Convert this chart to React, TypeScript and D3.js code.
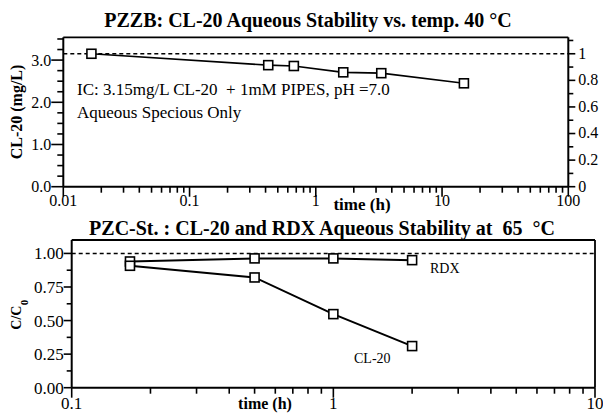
import React from 'react';
import * as d3 from 'd3';

// ---- Data ----
const topTimes = [0.0167, 0.42, 0.67, 1.65, 3.3, 14.9];
const topConc = [3.15, 2.88, 2.86, 2.71, 2.69, 2.45];
const initialConc = 3.15;

const botTimes = [0.167, 0.5, 1, 2];
const rdxRatio = [0.94, 0.963, 0.963, 0.95];
const cl20Ratio = [0.908, 0.821, 0.548, 0.31];

const topXTicks = [0.01, 0.1, 1, 10, 100];
const topXTickLabels = ['0.01', '0.1', '1', '10', '100'];
const topYTicks = [0, 1, 2, 3];
const topYTickLabels = ['0.0', '1.0', '2.0', '3.0'];
const topRightTicks = [0, 0.2, 0.4, 0.6, 0.8, 1];
const topRightTickLabels = ['0', '0.2', '0.4', '0.6', '0.8', '1'];
const botXTicks = [0.1, 1, 10];
const botXTickLabels = ['0.1', '1', '10'];
const botYTicks = [0, 0.25, 0.5, 0.75, 1];
const botYTickLabels = ['0.00', '0.25', '0.50', '0.75', '1.00'];

const FONT = '"Liberation Serif", "Times New Roman", Times, serif';

function logMinors(domain: [number, number]) {
  const out: number[] = [];
  for (let d = domain[0]; d < domain[1] * 0.999; d *= 10) {
    for (let k = 2; k <= 9; k++) out.push(d * k);
  }
  return out;
}

function linMinors(max: number, step: number) {
  const out: number[] = [];
  for (let v = step; v <= max + 1e-9; v += step) out.push(+v.toFixed(4));
  return out;
}

const Square = ({ x, y }: { x: number; y: number }) => (
  <rect x={x - 4.5} y={y - 4.5} width={9} height={9} fill="#fff" stroke="#000" strokeWidth={1.6} />
);

export default function App() {
  // top panel scales
  const tx = d3.scaleLog().domain([0.01, 100]).range([63.3, 568.3]);
  const ty = d3.scaleLinear().domain([0, 3.54]).range([186.7, 37.3]);
  const tyR = d3.scaleLinear().domain([0, 3.54 / initialConc]).range([186.7, 37.3]);
  // bottom panel scales
  const bx = d3.scaleLog().domain([0.1, 10]).range([71.7, 595]);
  const by = d3.scaleLinear().domain([0, 1.1]).range([387.7, 240]);

  const topLine = d3.line<number>().x((_, i) => tx(topTimes[i])).y((d) => ty(d));
  const botLine = d3.line<number>().x((_, i) => bx(botTimes[i])).y((d) => by(d));

  const [tL, tR] = tx.range();
  const [tB, tT] = ty.range();
  const [bL, bR] = bx.range();
  const [bB, bT] = by.range();

  return (
    <svg width={603} height={414} style={{ position: 'absolute', left: 0, top: 0, background: '#fff' }} fontFamily={FONT}>
      {/* ================= TOP PANEL ================= */}
      <text x={308} y={26.7} textAnchor="middle" fontSize={20} fontWeight="bold" style={{ whiteSpace: 'pre' }}>
        PZZB: CL-20 Aqueous Stability vs. temp. 40 °C
      </text>
      {/* frame */}
      <line x1={tL} x2={tR} y1={tT} y2={tT} stroke="#000" strokeWidth={1.8} />
      {/* dashed reference */}
      <line x1={tL} x2={tR} y1={ty(initialConc)} y2={ty(initialConc)} stroke="#000" strokeWidth={1.5} strokeDasharray="4,3" />
      {/* left axis */}
      <line x1={tL} x2={tL} y1={tB} y2={tT} stroke="#000" strokeWidth={2} />
      {topYTicks.map((v, i) => (
        <g key={'tyt' + i}>
          <line x1={tL - 12} x2={tL} y1={ty(v)} y2={ty(v)} stroke="#000" strokeWidth={1.6} />
          <text x={tL - 12} y={ty(v)} dy="0.35em" textAnchor="end" fontSize={16}>{topYTickLabels[i]}</text>
        </g>
      ))}
      {linMinors(3.5, 0.25).filter((v) => v % 1 !== 0).map((v, i) => (
        <line key={'tym' + i} x1={tL - 6} x2={tL} y1={ty(v)} y2={ty(v)} stroke="#000" strokeWidth={1.6} />
      ))}
      <text transform={`translate(16,${(tB + tT) / 2}) rotate(-90)`} textAnchor="middle" dy="0.35em" fontSize={16} fontWeight="bold">
        CL-20 (mg/L)
      </text>
      {/* right axis */}
      <line x1={tR} x2={tR} y1={tB} y2={tT} stroke="#000" strokeWidth={2} />
      {topRightTicks.map((v, i) => (
        <g key={'trt' + i}>
          <line x1={tR} x2={tR + 7} y1={tyR(v)} y2={tyR(v)} stroke="#000" strokeWidth={1.6} />
          <text x={tR + 10} y={tyR(v)} dy="0.3em" textAnchor="start" fontSize={16}>{topRightTickLabels[i]}</text>
        </g>
      ))}
      {[0.1, 0.3, 0.5, 0.7, 0.9, 1.1].map((v, i) => (
        <line key={'trm' + i} x1={tR} x2={tR + 5} y1={tyR(v)} y2={tyR(v)} stroke="#000" strokeWidth={1.6} />
      ))}
      {/* bottom axis */}
      <line x1={tL} x2={tR} y1={tB} y2={tB} stroke="#000" strokeWidth={2} />
      {topXTicks.map((v, i) => (
        <g key={'txt' + i}>
          <line x1={tx(v)} x2={tx(v)} y1={tB} y2={tB + 10} stroke="#000" strokeWidth={1.6} />
          <text x={tx(v)} y={206} textAnchor="middle" fontSize={16}>{topXTickLabels[i]}</text>
        </g>
      ))}
      {logMinors([0.01, 100]).map((v, i) => (
        <line key={'txm' + i} x1={tx(v)} x2={tx(v)} y1={tB} y2={tB + 6} stroke="#000" strokeWidth={1.6} />
      ))}
      <text x={362} y={210} textAnchor="middle" fontSize={17} fontWeight="bold">time (h)</text>
      {/* data */}
      <path d={topLine(topConc) || ''} fill="none" stroke="#000" strokeWidth={1.6} />
      {topConc.map((v, i) => (
        <Square key={'tp' + i} x={tx(topTimes[i])} y={ty(v)} />
      ))}
      <text x={77} y={95} fontSize={17} style={{ whiteSpace: 'pre' }}>IC: 3.15mg/L CL-20  + 1mM PIPES, pH =7.0</text>
      <text x={77} y={118} fontSize={17}>Aqueous Specious Only</text>

      {/* ================= BOTTOM PANEL ================= */}
      <text x={322} y={235} textAnchor="middle" fontSize={20} fontWeight="bold" style={{ whiteSpace: 'pre' }}>
        PZC-St. : CL-20 and RDX Aqueous Stability at  65  °C
      </text>
      <line x1={bL} x2={bR} y1={bT} y2={bT} stroke="#000" strokeWidth={1.8} />
      <line x1={bR} x2={bR} y1={bT} y2={bB} stroke="#000" strokeWidth={1.8} />
      <line x1={bL} x2={bR} y1={by(1)} y2={by(1)} stroke="#000" strokeWidth={1.5} strokeDasharray="4,3" />
      {/* left axis */}
      <line x1={bL} x2={bL} y1={bB} y2={bT} stroke="#000" strokeWidth={2} />
      {botYTicks.map((v, i) => (
        <g key={'byt' + i}>
          <line x1={bL - 8} x2={bL} y1={by(v)} y2={by(v)} stroke="#000" strokeWidth={1.6} />
          <text x={bL - 8} y={by(v)} dy="0.35em" textAnchor="end" fontSize={17}>{botYTickLabels[i]}</text>
        </g>
      ))}
      {[0.125, 0.375, 0.625, 0.875].map((v, i) => (
        <line key={'bym' + i} x1={bL - 5} x2={bL} y1={by(v)} y2={by(v)} stroke="#000" strokeWidth={1.6} />
      ))}
      <text transform={`translate(16,${by(0.5) - 3}) rotate(-90)`} textAnchor="middle" dy="0.35em" fontSize={14} fontWeight="bold">
        C/C
      </text>
      <text transform={`translate(24,${by(0.5) - 18}) rotate(-90)`} textAnchor="middle" dy="0.35em" fontSize={11} fontWeight="bold">
        0
      </text>
      {/* bottom axis */}
      <line x1={bL} x2={bR} y1={bB} y2={bB} stroke="#000" strokeWidth={2} />
      {botXTicks.map((v, i) => (
        <g key={'bxt' + i}>
          <line x1={bx(v)} x2={bx(v)} y1={bB} y2={bB + 10} stroke="#000" strokeWidth={1.6} />
          <text x={bx(v)} y={409} textAnchor="middle" fontSize={17}>{botXTickLabels[i]}</text>
        </g>
      ))}
      {logMinors([0.1, 10]).map((v, i) => (
        <line key={'bxm' + i} x1={bx(v)} x2={bx(v)} y1={bB} y2={bB + 6} stroke="#000" strokeWidth={1.6} />
      ))}
      <text x={265} y={409} textAnchor="middle" fontSize={16} fontWeight="bold">time (h)</text>
      {/* data */}
      <path d={botLine(rdxRatio) || ''} fill="none" stroke="#000" strokeWidth={2} />
      <path d={botLine(cl20Ratio) || ''} fill="none" stroke="#000" strokeWidth={2} />
      {rdxRatio.map((v, i) => (
        <Square key={'br' + i} x={bx(botTimes[i])} y={by(v)} />
      ))}
      {cl20Ratio.map((v, i) => (
        <Square key={'bc' + i} x={bx(botTimes[i])} y={by(v)} />
      ))}
      <text x={430} y={273} fontSize={14}>RDX</text>
      <text x={354} y={363} fontSize={14}>CL-20</text>
    </svg>
  );
}
